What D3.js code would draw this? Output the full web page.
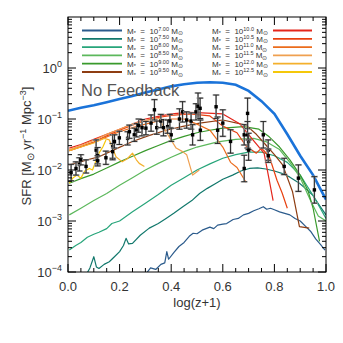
<!DOCTYPE html>
<html>
<head>
<meta charset="utf-8">
<script src="https://cdn.jsdelivr.net/npm/d3@7"></script>
<style>
  body { margin: 0; background: #fff; }
  svg text { font-family: "Liberation Sans", Arial, sans-serif; }
</style>
</head>
<body>
<svg class="chart" width="343" height="343"></svg>
<script>
// values are [log(z+1), log10 SFR]
const noFeedback = [[0, -0.84], [0.05, -0.78], [0.1, -0.73], [0.15, -0.67], [0.2, -0.61], [0.25, -0.55], [0.3, -0.48], [0.35, -0.42], [0.4, -0.36], [0.45, -0.32], [0.5, -0.29], [0.55, -0.28], [0.6, -0.29], [0.65, -0.33], [0.7, -0.45], [0.75, -0.65], [0.8, -0.9], [0.85, -1.3], [0.9, -1.72], [0.95, -2.1], [1.0, -2.58]];

const m700 = [[0.3, -4.05], [0.32, -3.92], [0.34, -3.95], [0.36, -3.85], [0.375, -3.82], [0.383, -3.6], [0.39, -3.75], [0.41, -3.62], [0.43, -3.5], [0.45, -3.42], [0.47, -3.3], [0.485, -3.24], [0.5, -3.25], [0.52, -3.18], [0.55, -3.12], [0.565, -3.15], [0.58, -3.08], [0.6, -3.06], [0.615, -3.05], [0.64, -2.97], [0.66, -2.95], [0.68, -2.88], [0.7, -2.85], [0.72, -2.8], [0.74, -2.76], [0.757, -2.72], [0.77, -2.77], [0.785, -2.75], [0.8, -2.78], [0.82, -2.82], [0.84, -2.85], [0.86, -2.88], [0.88, -2.95], [0.9, -3.0], [0.92, -3.1], [0.94, -3.2], [0.96, -3.35], [0.98, -3.47], [0.996, -3.57]];

const m750 = [[0.07, -4.06], [0.085, -3.92], [0.1, -3.7], [0.11, -3.9], [0.12, -3.93], [0.14, -3.85], [0.16, -3.8], [0.18, -3.7], [0.2, -3.6], [0.215, -3.48], [0.225, -3.34], [0.235, -3.45], [0.25, -3.44], [0.28, -3.28], [0.315, -3.14], [0.35, -3.05], [0.38, -2.95], [0.41, -2.85], [0.445, -2.72], [0.48, -2.6], [0.51, -2.46], [0.54, -2.36], [0.574, -2.26], [0.6, -2.18], [0.638, -2.1], [0.67, -2.02], [0.703, -1.97], [0.735, -1.96], [0.767, -1.98], [0.8, -2.02], [0.832, -2.07], [0.86, -2.14], [0.897, -2.26], [0.92, -2.36], [0.948, -2.49], [0.975, -2.7], [1.0, -2.88]];

const m800 = [[0.005, -3.57], [0.03, -3.48], [0.05, -3.42], [0.075, -3.32], [0.1, -3.26], [0.12, -3.22], [0.15, -3.15], [0.17, -3.05], [0.2, -3.0], [0.25, -2.82], [0.3, -2.65], [0.35, -2.48], [0.4, -2.3], [0.45, -2.15], [0.5, -2.0], [0.55, -1.88], [0.6, -1.77], [0.65, -1.7], [0.7, -1.65], [0.75, -1.65], [0.8, -1.72], [0.85, -1.85], [0.9, -2.1], [0.95, -2.5], [1.0, -2.95]];

const m850 = [[0.005, -2.88], [0.05, -2.75], [0.1, -2.6], [0.15, -2.46], [0.2, -2.3], [0.25, -2.15], [0.3, -2.0], [0.35, -1.87], [0.4, -1.75], [0.45, -1.64], [0.5, -1.55], [0.58, -1.45], [0.65, -1.4], [0.72, -1.38], [0.77, -1.45], [0.82, -1.6], [0.86, -1.85], [0.9, -2.15], [0.94, -2.6], [0.97, -2.9], [1.0, -3.0]];

const m900 = [[0.005, -2.26], [0.05, -2.17], [0.1, -2.08], [0.15, -1.96], [0.2, -1.84], [0.25, -1.73], [0.3, -1.62], [0.35, -1.52], [0.4, -1.42], [0.45, -1.34], [0.5, -1.27], [0.55, -1.22], [0.6, -1.18], [0.68, -1.15], [0.74, -1.2], [0.78, -1.35], [0.82, -1.55], [0.86, -1.8], [0.9, -2.1], [0.93, -2.4], [0.95, -2.75], [0.975, -3.4]];

const m950 = [[0.005, -1.9], [0.06, -1.82], [0.12, -1.74], [0.18, -1.6], [0.25, -1.44], [0.31, -1.33], [0.38, -1.22], [0.45, -1.14], [0.51, -1.08], [0.6, -1.02], [0.69, -1.12], [0.73, -1.3], [0.767, -1.51], [0.8, -1.7], [0.832, -1.9], [0.87, -2.42], [0.897, -3.11], [0.935, -3.14]];

const m1000 = [[0.005, -1.57], [0.05, -1.5], [0.1, -1.4], [0.15, -1.3], [0.2, -1.2], [0.25, -1.1], [0.3, -1.0], [0.35, -0.95], [0.4, -0.9], [0.47, -0.87], [0.52, -0.88], [0.6, -0.9], [0.667, -1.1], [0.72, -1.43], [0.76, -1.67], [0.78, -2.2], [0.795, -2.6]];

const m1050 = [[0.005, -1.62], [0.05, -1.54], [0.1, -1.45], [0.15, -1.33], [0.2, -1.22], [0.25, -1.12], [0.3, -1.03], [0.35, -0.97], [0.4, -0.93], [0.473, -0.9], [0.55, -0.94], [0.6, -1.14], [0.655, -1.27], [0.69, -1.53], [0.73, -1.67], [0.75, -1.57], [0.78, -1.73], [0.81, -2.2], [0.83, -2.45], [0.85, -2.75]];

const m1100 = [[0.005, -1.62], [0.05, -1.55], [0.1, -1.46], [0.15, -1.35], [0.2, -1.25], [0.25, -1.17], [0.3, -1.1], [0.35, -1.04], [0.4, -1.0], [0.45, -1.0], [0.5, -1.1], [0.55, -1.22], [0.6, -1.55], [0.63, -1.85], [0.655, -1.95], [0.69, -2.24]];

const m1150 = [[0.005, -1.6], [0.05, -1.52], [0.1, -1.42], [0.15, -1.3], [0.2, -1.2], [0.25, -1.1], [0.3, -1.03], [0.354, -0.99], [0.38, -1.25], [0.419, -1.57], [0.444, -1.64], [0.46, -1.7], [0.483, -2.1], [0.509, -2.0]];

const m1200 = [[0.005, -1.62], [0.05, -1.55], [0.1, -1.47], [0.14, -1.38], [0.16, -1.41], [0.186, -1.74], [0.21, -1.84], [0.23, -1.78], [0.25, -1.67], [0.265, -1.8], [0.276, -1.87], [0.296, -1.93]];

const m1250 = [[0.005, -2.26], [0.02, -2.15], [0.035, -2.1], [0.05, -2.16], [0.065, -2.02], [0.083, -1.97], [0.095, -2.0], [0.11, -1.8], [0.12, -1.67], [0.135, -1.55], [0.147, -1.41]];

// observations: log(z+1), log10 SFR, error in dex
const obsX = [0.012, 0.031, 0.044, 0.05, 0.07, 0.109, 0.115, 0.115, 0.147, 0.173, 0.173, 0.18, 0.199, 0.231, 0.238, 0.257, 0.266, 0.274, 0.287, 0.302, 0.322, 0.335, 0.344, 0.36, 0.37, 0.386, 0.395, 0.4, 0.432, 0.444, 0.46, 0.477, 0.483, 0.496, 0.504, 0.512, 0.513, 0.574, 0.58, 0.6, 0.63, 0.683, 0.683, 0.696, 0.696, 0.7, 0.7, 0.757, 0.776, 0.776, 0.838, 0.893, 0.955];
const obsY = [-2.05, -1.97, -1.89, -1.8, -1.93, -1.61, -1.72, -1.82, -1.76, -1.54, -1.64, -1.44, -1.37, -1.38, -1.25, -1.31, -1.22, -1.13, -1.17, -1.18, -1.08, -0.82, -1.17, -1.04, -1.17, -1.15, -1.04, -1.31, -1.0, -0.86, -1.02, -1.04, -1.31, -0.86, -0.75, -0.79, -1.22, -0.76, -1.22, -1.08, -1.44, -1.31, -1.97, -0.89, -1.31, -1.44, -1.61, -1.31, -1.61, -1.72, -1.93, -2.16, -2.39];
const obsErr = [0.16, 0.13, 0.13, 0.1, 0.13, 0.2, 0.16, 0.1, 0.13, 0.23, 0.16, 0.13, 0.13, 0.13, 0.13, 0.13, 0.13, 0.13, 0.16, 0.13, 0.16, 0.2, 0.13, 0.13, 0.16, 0.13, 0.13, 0.13, 0.2, 0.2, 0.16, 0.16, 0.2, 0.16, 0.26, 0.2, 0.2, 0.23, 0.26, 0.26, 0.23, 0.2, 0.26, 0.3, 0.26, 0.16, 0.2, 0.26, 0.2, 0.13, 0.16, 0.26, 0.26];

const leftMasses = ["7.00", "7.50", "8.00", "8.50", "9.00", "9.50"];
const rightMasses = ["10.0", "10.5", "11.0", "11.5", "12.0", "12.5"];
const xTickLabels = ["0.0", "0.2", "0.4", "0.6", "0.8", "1.0"];
const yTickExponents = ["0", "\u22121", "\u22122", "\u22123", "\u22124"];

const curves = [
  { data: m700, color: "#2b5b8c" },
  { data: m750, color: "#12786c" },
  { data: m800, color: "#27a57a" },
  { data: m850, color: "#5cb85c" },
  { data: m900, color: "#399a2c" },
  { data: m950, color: "#8e3d12" },
  { data: m1000, color: "#e4261c" },
  { data: m1050, color: "#e8400f" },
  { data: m1100, color: "#eb6c1c" },
  { data: m1150, color: "#efa050" },
  { data: m1200, color: "#f4b02c" },
  { data: m1250, color: "#f5c80a" },
];

function drawChart() {
  const svg = d3.select(".chart");
  const left = 68, right = 326, top = 17, bottom = 272;
  const textColor = "#333";

  const xScale = d3.scaleLinear().domain([0, 1]).range([left, right]);
  const yScale = d3.scaleLog().domain([1e-4, 1e1]).range([bottom, top]);

  svg.append("clipPath").attr("id", "plotClip")
    .append("rect")
    .attr("x", left).attr("y", top)
    .attr("width", right - left).attr("height", bottom - top);

  const plot = svg.append("g").attr("clip-path", "url(#plotClip)");

  const line = d3.line()
    .x((d) => xScale(d[0]))
    .y((d) => yScale(10 ** d[1]));

  // No Feedback label
  svg.append("text")
    .text("No Feedback")
    .attr("x", 81)
    .attr("y", 96)
    .attr("font-size", 16.5)
    .attr("fill", "#555");

  plot.selectAll(".curve")
    .data(curves)
    .enter()
    .append("path")
    .attr("class", "curve")
    .attr("d", (d) => line(d.data))
    .attr("fill", "none")
    .attr("stroke", (d) => d.color)
    .attr("stroke-width", 1.2)
    .attr("stroke-linejoin", "round");

  plot.append("path")
    .attr("d", line(noFeedback))
    .attr("fill", "none")
    .attr("stroke", "#1a73d9")
    .attr("stroke-width", 2.6);

  // error bars and points
  const obs = obsX.map((x, i) => ({ x: x, y: obsY[i], e: obsErr[i] }));
  const bars = plot.selectAll(".obs").data(obs).enter().append("g").attr("class", "obs");
  [["#a8a8a8", 1.6, 3.5], ["#111", 0.8, 2.8]].forEach(([c, w, cap]) => {
    bars.append("path")
      .attr("d", (d) => {
        const cx = xScale(d.x);
        const y0 = yScale(10 ** (d.y - d.e));
        const y1 = yScale(10 ** (d.y + d.e));
        return `M${cx},${y0}V${y1}M${cx - cap},${y0}H${cx + cap}M${cx - cap},${y1}H${cx + cap}`;
      })
      .attr("fill", "none")
      .attr("stroke", c)
      .attr("stroke-width", w);
  });
  bars.append("rect")
    .attr("x", (d) => xScale(d.x) - 1.7)
    .attr("y", (d) => yScale(10 ** d.y) - 1.7)
    .attr("width", 3.4)
    .attr("height", 3.4)
    .attr("fill", "#000");

  // frame
  svg.append("rect")
    .attr("x", left).attr("y", top)
    .attr("width", right - left).attr("height", bottom - top)
    .attr("fill", "none")
    .attr("stroke", "#000")
    .attr("stroke-width", 1);

  // x ticks (bottom and top, pointing inside)
  const xMinor = d3.range(0, 1.0001, 0.05);
  xMinor.forEach((v, i) => {
    const len = i % 4 === 0 ? 8 : 4;
    const px = xScale(v);
    svg.append("line").attr("x1", px).attr("x2", px).attr("y1", bottom).attr("y2", bottom - len).attr("stroke", "#000");
    svg.append("line").attr("x1", px).attr("x2", px).attr("y1", top).attr("y2", top + len).attr("stroke", "#000");
  });
  svg.selectAll(".xlab")
    .data(xTickLabels)
    .enter()
    .append("text")
    .attr("class", "xlab")
    .attr("x", (d) => xScale(+d))
    .attr("y", 291)
    .attr("text-anchor", "middle")
    .attr("font-size", 13)
    .attr("fill", textColor)
    .text((d) => d);

  // y ticks (left and right)
  for (let k = -4; k <= 0; k++) {
    for (let m = 1; m <= 9; m++) {
      const py = yScale(m * 10 ** k);
      const len = m === 1 ? 8 : 4;
      svg.append("line").attr("x1", left).attr("x2", left + len).attr("y1", py).attr("y2", py).attr("stroke", "#000");
      svg.append("line").attr("x1", right).attr("x2", right - len).attr("y1", py).attr("y2", py).attr("stroke", "#000");
    }
  }
  const ylab = svg.selectAll(".ylab")
    .data(yTickExponents)
    .enter()
    .append("text")
    .attr("class", "ylab")
    .attr("x", 62)
    .attr("y", (d, i) => yScale(10 ** -i) + 5)
    .attr("text-anchor", "end")
    .attr("font-size", 13)
    .attr("fill", textColor);
  ylab.append("tspan").text("10");
  ylab.append("tspan").attr("dy", -6).attr("font-size", 9).text((d) => d);

  // axis titles
  svg.append("text")
    .attr("x", 197)
    .attr("y", 307)
    .attr("text-anchor", "middle")
    .attr("font-size", 13)
    .attr("fill", textColor)
    .text("log(z+1)");

  const ytitle = svg.append("text")
    .attr("transform", "translate(31,146) rotate(-90)")
    .attr("text-anchor", "middle")
    .attr("font-size", 13)
    .attr("fill", textColor);
  ytitle.append("tspan").text("SFR [M");
  ytitle.append("tspan").attr("dy", 3).attr("font-size", 10).text("\u2299");
  ytitle.append("tspan").attr("dy", -3).text(" yr");
  ytitle.append("tspan").attr("dy", -5).attr("font-size", 9).text("\u22121");
  ytitle.append("tspan").attr("dy", 5).text(" Mpc");
  ytitle.append("tspan").attr("dy", -5).attr("font-size", 9).text("\u22123");
  ytitle.append("tspan").attr("dy", 5).text("]");

  // legend
  const legendCols = [
    { masses: leftMasses, colors: curves.slice(0, 6), lineX: [82, 122], textX: 127 },
    { masses: rightMasses, colors: curves.slice(6), lineX: [273, 312], textX: 212 },
  ];
  legendCols.forEach((col) => {
    col.masses.forEach((mass, i) => {
      const ly = 30.5 + i * 8.3;
      svg.append("line")
        .attr("x1", col.lineX[0]).attr("x2", col.lineX[1])
        .attr("y1", ly).attr("y2", ly)
        .attr("stroke", col.colors[i].color)
        .attr("stroke-width", 1.8);
      const t = svg.append("text")
        .attr("x", col.textX)
        .attr("y", ly + 3)
        .attr("font-size", 8)
        .attr("fill", textColor);
      t.append("tspan").text("M");
      t.append("tspan").attr("dy", 1.5).attr("font-size", 5.5).text("*");
      t.append("tspan").attr("dy", -1.5).attr("xml:space", "preserve").text("  =  10");
      t.append("tspan").attr("dy", -3).attr("font-size", 5.5).text(mass);
      t.append("tspan").attr("dy", 3).text(" M");
      t.append("tspan").attr("dy", 1.5).attr("font-size", 6).text("\u2299");
    });
  });
}

drawChart();
</script>
</body>
</html>
